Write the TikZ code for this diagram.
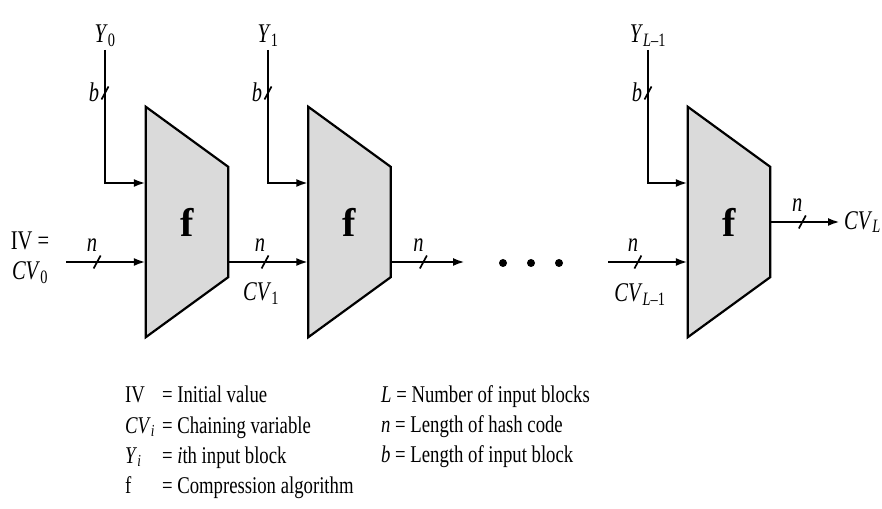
\documentclass[tikz,border=0pt]{standalone}
\usepackage{fontspec}
\setmainfont{Liberation Serif}
\newfontfamily\legendfont{Liberation Serif}[FakeStretch=0.78]
\newfontfamily\labelfont{Liberation Serif}[FakeStretch=0.76]
\usepackage{tikz}
\usetikzlibrary{arrows.meta, positioning, calc, backgrounds}
\definecolor{blockgray}{RGB}{218,218,218}
\newcommand{\vsub}[2]{\textit{#1}\textsubscript{#2}}

\begin{document}
\begin{tikzpicture}[x=1pt, y=1pt,
  wire/.style={line width=2.4pt},
  arr/.style={wire, -{Latex[length=12pt, width=8pt]}},
  fblock/.style={minimum width=82pt, minimum height=230pt, inner sep=0pt,
    font=\bfseries\fontsize{40}{40}\selectfont},
  blockface/.style={draw=black, fill=blockgray, line width=2.2pt, line join=miter},
  lbl/.style={inner sep=1pt, font=\labelfont\fontsize{27}{30}\selectfont},
  legend/.style={inner sep=0pt, anchor=west, align=left,
    font=\legendfont\fontsize{24}{30}\selectfont},
  pics/busslash/.style={code={\draw[line width=1.7pt] (-3.5pt,-6.5pt) -- (3.5pt,6.5pt);}}
]
\useasboundingbox (0,0) rectangle (882,508);

% Compression blocks
\node[fblock] (f1) at (187,286) {f};
\node[fblock] (f2) at (349.5,286) {f};
\node[fblock] (f3) at (729,286) {f};
\begin{scope}[on background layer]
\foreach \b in {f1,f2,f3}
  \filldraw[blockface] (\b.north west) -- ([yshift=-60pt]\b.north east)
    -- ([yshift=60pt]\b.south east) -- (\b.south west) -- cycle;
\end{scope}

% Message block inputs
\coordinate (y0top) at (105,458);
\coordinate (y1top) at (268,458);
\coordinate (yLtop) at (648,458);
\node[lbl, above=2pt of y0top] (y0) {\vsub{Y}{0}};
\node[lbl, above=2pt of y1top] (y1) {\vsub{Y}{1}};
\node[lbl, above=2pt of yLtop] (yL) {\vsub{Y}{\textit{L}–1}};
\draw[arr] (y0top) |- ([yshift=39pt]f1.west);
\draw[arr] (y1top) |- ([yshift=39pt]f2.west);
\draw[arr] (yLtop) |- ([yshift=39pt]f3.west);
\pic at ([yshift=-43pt]y0top) {busslash};
\pic at ([yshift=-43pt]y1top) {busslash};
\pic at ([yshift=-43pt]yLtop) {busslash};
\node[lbl] (b0) at ([shift={(-11pt,1pt)}]y0top |- 0,415) {\textit{b}};
\node[lbl] (b1) at ([shift={(-11pt,1pt)}]y1top |- 0,415) {\textit{b}};
\node[lbl] (bL) at ([shift={(-11pt,1pt)}]yLtop |- 0,415) {\textit{b}};

% Chaining variables
\node[lbl, align=center] (iv) at (30,250) {IV =\\\vsub{CV}{0}};
\coordinate (ivstart) at (66,246);
\coordinate (c2end) at (465,246);
\coordinate (c3start) at (608,246);
\coordinate (outend) at (840,286);
\draw[arr] (ivstart) -- coordinate[pos=0.39] (s0) ([yshift=-40pt]f1.west);
\draw[arr] ([yshift=-40pt]f1.east) -- coordinate[pos=0.46] (s1) ([yshift=-40pt]f2.west);
\draw[arr] ([yshift=-40pt]f2.east) -- coordinate[pos=0.44] (s2) (c2end);
\draw[arr] (c3start) -- coordinate[pos=0.375] (s3) ([yshift=-40pt]f3.west);
\draw[arr] (f3.east) -- coordinate[pos=0.46] (s4) (outend);
\foreach \s in {s0,s1,s2,s3,s4}
  \pic at (\s) {busslash};
\node[lbl] (n0) at ([shift={(-5pt,17pt)}]s0) {\textit{n}};
\node[lbl] (n1) at ([shift={(-5pt,17pt)}]s1) {\textit{n}};
\node[lbl] (n2) at ([shift={(-5pt,17pt)}]s2) {\textit{n}};
\node[lbl] (n3) at ([shift={(-5pt,17pt)}]s3) {\textit{n}};
\node[lbl] (n4) at ([shift={(-5pt,17pt)}]s4) {\textit{n}};
\node[lbl] (cv1) at ([shift={(-4pt,-32pt)}]s1) {\vsub{CV}{1}};
\node[lbl] (cvL) at ([shift={(2pt,-33pt)}]s3) {\vsub{CV}{\textit{L}–1}};
\node[lbl, anchor=west] (cvout) at ([xshift=3pt]outend) {\vsub{CV}{\textit{L}}};

% Dots
\foreach \x in {503,531,559}
  \fill (\x,245) circle (4pt);

% Legend
\node[legend] (legl) at (125,66) {%
  \begin{tabular}{@{}l@{\hspace{7pt}}l@{}}
  IV & = Initial value\\
  \vsub{CV}{\textit{i}} & = Chaining variable\\
  \vsub{Y}{\textit{i}} & = \textit{i}th input block\\
  f & = Compression algorithm
  \end{tabular}};
\node[legend] (legr) at (381,81) {%
  \textit{L} = Number of input blocks\\
  \textit{n} = Length of hash code\\
  \textit{b} = Length of input block};

\end{tikzpicture}
\end{document}
